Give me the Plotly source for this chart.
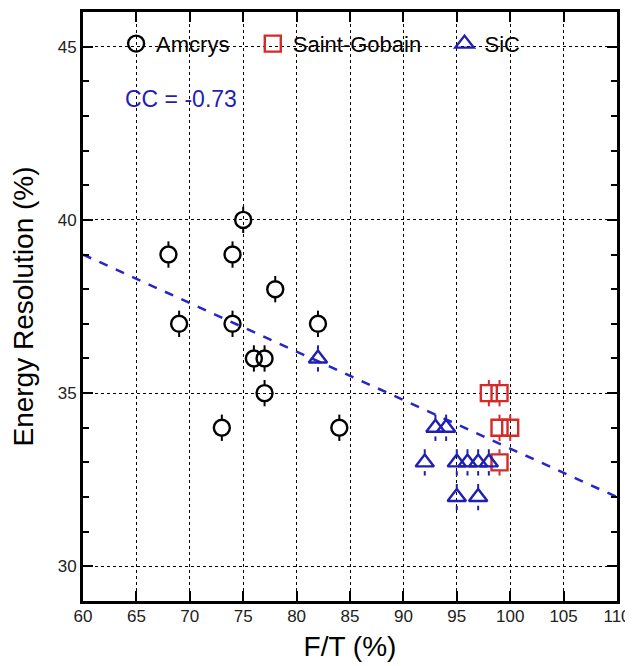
import plotly.graph_objects as go

# ---- data ----
amcrys_x = [68, 69, 73, 74, 74, 75, 76, 77, 77, 78, 82, 84]
amcrys_y = [39, 37, 34, 39, 37, 40, 36, 36, 35, 38, 37, 34]

sg_x = [98, 99, 99, 100, 99]
sg_y = [35, 35, 34, 34, 33]

sic_x = [82, 93, 94, 92, 95, 96, 97, 98, 95, 97]
sic_y = [36, 34, 34, 33, 33, 33, 33, 33, 32, 32]

fit_x = [60, 110]
fit_y = [39.0, 32.0]

cc_text = "CC = -0.73"

x_ticks = [60, 65, 70, 75, 80, 85, 90, 95, 100, 105, 110]
y_ticks = [30, 35, 40, 45]

err_in = 0.25   # inner end of error bar (marker edge)
err_out = 0.38  # outer end of error bar

BLACK = "#000000"
RED = "#d42a2a"
BLUE = "#1f1fb4"
FIT = "#2626c8"
NB = "\u00a0"


def err_segments(xs, ys):
    sx, sy = [], []
    for x, y in zip(xs, ys):
        sx += [x, x, None, x, x, None]
        sy += [y + err_in, y + err_out, None, y - err_in, y - err_out, None]
    return sx, sy


fig = go.Figure()

# regression line
fig.add_trace(go.Scatter(x=fit_x, y=fit_y, mode="lines",
                         line=dict(color=FIT, width=2.5, dash="dash"),
                         showlegend=False, hoverinfo="skip"))

series = [
    ("Amcrys" + NB * 3, amcrys_x, amcrys_y, "circle-open", BLACK),
    ("Saint-Gobain" + NB * 3, sg_x, sg_y, "square-open", RED),
    ("SiC", sic_x, sic_y, "triangle-up-open", BLUE),
]

for name, xs, ys, sym, col in series:
    ex, ey = err_segments(xs, ys)
    fig.add_trace(go.Scatter(x=ex, y=ey, mode="lines",
                             line=dict(color=col, width=2),
                             showlegend=False, hoverinfo="skip"))
    fig.add_trace(go.Scatter(x=xs, y=ys, mode="markers", name=name,
                             marker=dict(symbol=sym, size=16, color=col,
                                         line=dict(color=col, width=2.4))))

fig.add_annotation(x=69.2, y=43.5, xref="x", yref="y", text=cc_text,
                   showarrow=False, xanchor="center", yanchor="middle",
                   font=dict(family="Liberation Sans, Arial", size=23, color=BLUE))

axis_common = dict(
    showline=True, linewidth=3, linecolor=BLACK, mirror="allticks",
    ticks="inside", ticklen=10, tickwidth=2, tickcolor=BLACK,
    showgrid=True, gridcolor=BLACK, gridwidth=1, griddash="dot",
    zeroline=False, automargin=False,
    tickfont=dict(family="Liberation Sans, Arial", size=17, color="#222222"),
)

fig.update_xaxes(range=[60, 110], tickvals=x_ticks, ticklabelstandoff=-2,
                 title=dict(text="F/T (%)", standoff=11,
                            font=dict(family="Liberation Sans, Arial", size=28, color=BLACK)),
                 **axis_common)
fig.update_yaxes(range=[29, 46], tickvals=y_ticks,
                 minor=dict(dtick=1, ticks="inside", ticklen=6, tickwidth=2,
                            tickcolor=BLACK, showgrid=False),
                 title=dict(text="Energy Resolution (%)", standoff=16,
                            font=dict(family="Liberation Sans, Arial", size=28, color=BLACK)),
                 **axis_common)

# page body has an 8px margin, so the figure is sized/positioned to compensate
fig.update_layout(
    width=625, height=658,
    margin=dict(l=75, r=16, t=4, b=65),
    plot_bgcolor="white", paper_bgcolor="white",
    legend=dict(orientation="h", x=0.062, y=0.946, xanchor="left", yanchor="middle",
                bgcolor="rgba(0,0,0,0)", borderwidth=0,
                font=dict(family="Liberation Sans, Arial", size=22, color=BLACK)),
)

fig.write_html("out.html")
